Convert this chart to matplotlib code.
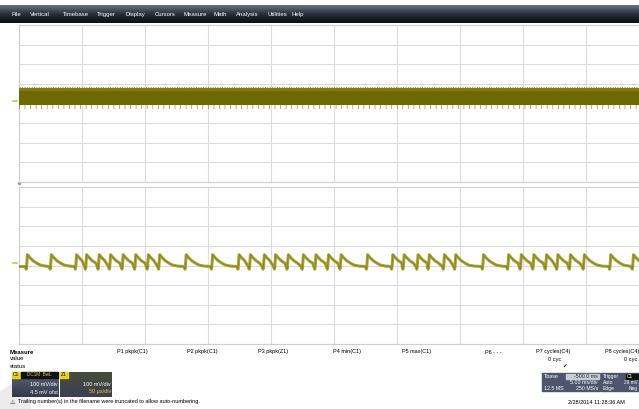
"""
Two-channel scope capture: a noisy supply rail on top and a pulse train below.
"""

import numpy as np
import matplotlib.pyplot as plt
from matplotlib.colors import LinearSegmentedColormap
from matplotlib.patches import Rectangle, Polygon

plt.rcParams['font.family'] = ['Liberation Sans', 'DejaVu Sans']
plt.rcParams['hatch.linewidth'] = 0.6

W, H = 639, 409

# Horizontal: 10 divisions at 5 ms/div, trigger in the centre
t_start, t_stop = -25.0, 25.0
ms_per_div = 5.0
mv_per_div = 100.0
n_vdiv = 8

# Upper channel: noise band limits (mV)
noise_top_mv = 78.0
noise_core_bottom_mv = -6.0
noise_spike_bottom_mv = -30.0

# Lower channel: pulse arrival times (ms)
pulse_times_ms = [
    -24.4, -22.5,
    -20.5, -19.7, -18.7, -17.8, -16.8, -15.8, -14.8, -13.9,
    -11.8, -9.7,
    -7.6, -6.7, -5.6, -4.7, -3.7, -2.5, -1.5, -0.5, 0.5,
    2.6,
    4.6, 5.5, 6.6, 7.5, 8.7, 9.6,
    11.8,
    13.8, 14.8, 15.8, 16.8, 17.7, 18.7, 19.8,
    21.9, 23.7,
]
baseline_mv = -5.0
# one pulse: offset from arrival (ms) and level above baseline (mV)
pulse_dt_ms = [-0.1, -0.03, 0.0, 0.07, 0.25, 0.5, 0.8, 1.1, 1.5]
pulse_dv_mv = [0.0, -14.0, -4.0, 60.0, 46.0, 30.0, 17.0, 7.0, 2.0]

menu_items = ["File", "Vertical", "Timebase", "Trigger", "Display", "Cursors",
              "Measure", "Math", "Analysis", "Utilities", "Help"]
menu_x = [12, 30, 63, 97, 126, 155, 183, 214, 236, 267, 292]

param_labels = ["P1 pkpk(C1)", "P2 pkpk(C1)", "P3 pkpk(Z1)", "P4 min(C1)",
                "P5 max(C1)", "P6 - - -", "P7 cycles(C4)", "P8 cycles(C4)"]
param_x = [117, 187, 258, 333, 402, 485, 536, 605]

trace_dark = '#6e6800'
trace_light = '#aaa53c'
grid_col = '#dcdcdc'


def px_rect(x0, y0, x1, y1):
    """Pixel box (top-left origin) to figure fraction."""
    return [x0 / W, 1 - y1 / H, (x1 - x0) / W, (y1 - y0) / H]


def setup_panel(ax):
    half = n_vdiv / 2 * mv_per_div
    ax.set_xlim(t_start, t_stop)
    ax.set_ylim(-half, half)
    ax.set_xticks(np.arange(t_start, t_stop + 0.1, ms_per_div))
    ax.set_yticks(np.arange(-half, half + 1, mv_per_div))
    ax.grid(True, color=grid_col, lw=0.8)
    ax.tick_params(length=0, labelbottom=False, labelleft=False)
    for s in ax.spines.values():
        s.set_color('#cfcfcf')
        s.set_linewidth(0.8)
    ax.axvline(0, color='#8a8a8a', lw=0.7, ls=(0, (1, 1.2)), zorder=1)
    ax.set_facecolor('white')


fig = plt.figure(figsize=(W / 100, H / 100), dpi=100)

# background layer in pixel coordinates
bg = fig.add_axes([0, 0, 1, 1])
bg.set_xlim(0, W)
bg.set_ylim(H, 0)
bg.axis('off')

grad = np.linspace(0, 1, 64).reshape(-1, 1)

# menu bar
bg.imshow(grad, cmap=LinearSegmentedColormap.from_list(
    'bar', ['#6a7286', '#2a2e3a', '#0c0c12']), aspect='auto',
    extent=[0, W, 23, 5], zorder=1)
for label, x in zip(menu_items, menu_x):
    bg.text(x, 14.5, label, color='white', fontsize=4.3, va='center', zorder=2)

# scope panels
ax1 = fig.add_axes(px_rect(19, 25, 649, 182))
ax2 = fig.add_axes(px_rect(19, 187, 649, 344))
setup_panel(ax1)
setup_panel(ax2)

# upper trace: dense noise band
t_band = np.array([t_start, t_stop])
ax1.fill_between(t_band, noise_core_bottom_mv, noise_top_mv,
                 color=trace_dark, lw=0, zorder=3)
ax1.fill_between(t_band, noise_top_mv - 12, noise_top_mv,
                 color='#807a14', lw=0, zorder=3)
ax1.fill_between(t_band, noise_top_mv - 4, noise_top_mv + 4,
                 facecolor='none', edgecolor='#8a8420', hatch='|||||||',
                 lw=0, zorder=3)
ax1.fill_between(t_band, noise_spike_bottom_mv, noise_core_bottom_mv,
                 facecolor='none', edgecolor='#6e6800a0', hatch='|||',
                 lw=0, zorder=3)

# lower trace: pulses stitched together up to the next arrival
tt, vv = [t_start], [baseline_mv]
for i, tp in enumerate(pulse_times_ms):
    nxt = pulse_times_ms[i + 1] if i + 1 < len(pulse_times_ms) else t_stop + 5
    for dt, dv in zip(pulse_dt_ms, pulse_dv_mv):
        if tp + dt < nxt + pulse_dt_ms[0]:
            tt.append(tp + dt)
            vv.append(baseline_mv + dv)
tt.append(t_stop)
vv.append(baseline_mv)
ax2.plot(tt, vv, color=trace_light, lw=2.2, zorder=3, solid_joinstyle='round')
ax2.plot(tt, vv, color='#8a8522', lw=0.7, zorder=4)

# channel markers at the left edge
for y in (101, 263):
    bg.plot([13, 17], [y, y], color='#c9c24a', lw=1.2, zorder=5)
bg.plot(19, 182.5, marker='o', ms=1.5, color='#9a9a9a', zorder=5)

# measurement table
bg.text(10, 352, "Measure", fontsize=4.3, fontweight='bold', va='center')
bg.text(10, 359, "value", fontsize=4.3, va='center')
bg.text(10, 366, "status", fontsize=4.3, va='center')
for label, x in zip(param_labels, param_x):
    bg.text(x, 352, label, fontsize=4.0, va='center')
bg.text(561, 359, "0 cyc", fontsize=4.1, va='center', ha='right')
bg.text(637, 359, "0 cyc", fontsize=4.1, va='center', ha='right')
bg.text(565, 366, "\u2714", fontsize=4.0, va='center', ha='center')

# faint corner shape
bg.add_patch(Polygon([[0, 409], [0, 392], [30, 372], [30, 409]],
                     closed=True, color='#ececec', zorder=0))

# channel descriptor boxes
bg.imshow(grad, cmap=LinearSegmentedColormap.from_list(
    'c1', ['#5a6378', '#34394a']), aspect='auto',
    extent=[12, 59, 397, 372], zorder=2)
bg.imshow(grad, cmap=LinearSegmentedColormap.from_list(
    'z1', ['#4a4c36', '#3a3f55']), aspect='auto',
    extent=[60, 112, 397, 372], zorder=2)
bg.add_patch(Rectangle((12, 372), 8, 6, color='#e6d21e', zorder=3))
bg.text(16, 375, "C1", fontsize=3.5, ha='center', va='center', zorder=4)
bg.add_patch(Rectangle((21, 372), 37, 6, color='#111111', zorder=3))
bg.text(39, 375, "DC1M  BwL", fontsize=3.3, color='#d8c84a',
        ha='center', va='center', zorder=4)
bg.text(58, 385, "100 mV/div", fontsize=4.0, color='white', ha='right',
        va='center', zorder=4)
bg.text(58, 392, "4.5 mV ofst", fontsize=4.0, color='white', ha='right',
        va='center', zorder=4)
bg.add_patch(Rectangle((60, 372), 8, 6, color='#e6d21e', zorder=3))
bg.text(64, 375, "Z1", fontsize=3.5, ha='center', va='center', zorder=4)
bg.text(111, 385, "100 mV/div", fontsize=4.0, color='white', ha='right',
        va='center', zorder=4)
bg.text(111, 392, "50 \u00b5s/div", fontsize=4.0, color='#e6d21e', ha='right',
        va='center', zorder=4)

# warning line
bg.text(12, 402, "\u26a0", fontsize=4.5, va='center', ha='center',
        color='#333333', family=['DejaVu Sans'])
bg.text(18, 402, "Trailing number(s) in the filename were truncated to "
        "allow auto-numbering.", fontsize=4.0, va='center')

# timebase and trigger boxes
bg.add_patch(Rectangle((542, 373), 58, 18, color='#4d566c', zorder=2))
bg.add_patch(Rectangle((601, 373), 40, 18, color='#4d566c', zorder=2))
bg.add_patch(Rectangle((566, 373.5), 33, 5.5, color='#c8ccd6', zorder=3))
bg.text(544, 376.3, "Tbase", fontsize=3.8, color='white', va='center', zorder=4)
bg.text(598, 376.3, "-500.0 ms", fontsize=3.8, color='#222222', ha='right',
        va='center', zorder=4)
bg.text(598, 382.3, "5.00 ms/div", fontsize=3.8, color='white', ha='right',
        va='center', zorder=4)
bg.text(544, 388.3, "12.5 MS", fontsize=3.8, color='white', va='center',
        zorder=4)
bg.text(598, 388.3, "250 MS/s", fontsize=3.8, color='white', ha='right',
        va='center', zorder=4)
bg.text(603, 376.3, "Trigger", fontsize=3.6, color='white', va='center',
        zorder=4)
bg.add_patch(Rectangle((626, 373.5), 13, 5.5, color='#111111', zorder=3))
bg.text(627, 376.3, "C1", fontsize=3.4, color='white', va='center', zorder=4)
bg.text(603, 382.3, "Auto", fontsize=3.6, color='white', va='center', zorder=4)
bg.text(638, 382.3, "29 mV", fontsize=3.4, color='white', va='center',
        ha='right', zorder=4)
bg.text(603, 388.3, "Edge", fontsize=3.6, color='white', va='center', zorder=4)
bg.text(638, 388.3, "Neg", fontsize=3.4, color='white', va='center',
        ha='right', zorder=4)
bg.text(568, 402, "2/28/2014 11:28:36 AM", fontsize=4.0, va='center')

fig.savefig("out.png", dpi=100)
plt.close(fig)
